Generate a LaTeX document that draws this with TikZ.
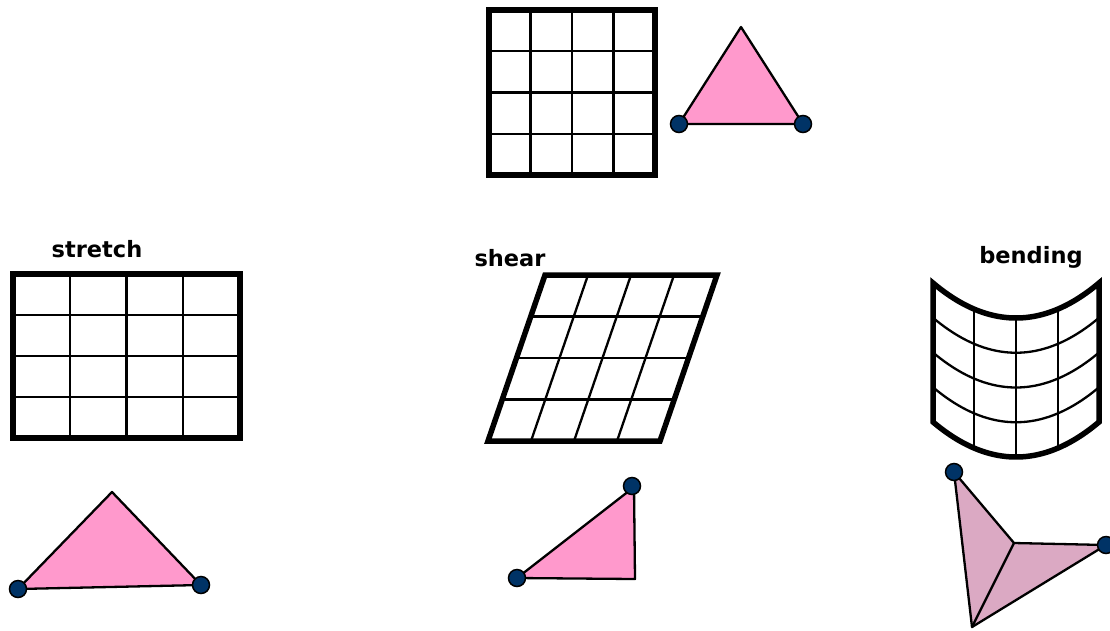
\documentclass[tikz,border=0pt]{standalone}
\usepackage{fontspec}
\setmainfont{DejaVu Sans}
\usepackage{tikz}
\usepackage{xcolor}
\definecolor{tripink}{HTML}{FF99CC}
\definecolor{bendpink}{HTML}{DBA9C3}
\definecolor{dotblue}{HTML}{003366}

\begin{document}
\begin{tikzpicture}[x=1pt,y=-1pt,
  gridline/.style={line width=2.3pt},
  frame/.style={line width=5.5pt,line join=miter},
  tri/.style={draw,line width=2.3pt,line join=round},
  vdot/.style={fill=dotblue,draw=black,line width=1.5pt},
  lbl/.style={font=\fontsize{22.5}{26}\selectfont\bfseries,inner sep=0pt}]
\useasboundingbox (0,0) rectangle (1110,630);
\foreach \i in {1,2,3} {
  \draw[gridline] ({489+41.5*\i},10)--({489+41.5*\i},175);
  \draw[gridline] (489,{10+41.25*\i})--(655,{10+41.25*\i});
}
\draw[frame] (489,10) rectangle (655,175);
\draw[tri,fill=tripink] (679,124)--(741,27)--(803,124)--cycle;
\draw[vdot] (679,124) circle[radius=8.5pt];
\draw[vdot] (803,124) circle[radius=8.5pt];
\node[lbl] (stretch) at (97,249) {stretch};
\foreach \i in {1,2,3} {
  \draw[gridline] ({13+56.75*\i},274)--({13+56.75*\i},438);
  \draw[gridline] (13,{274+41*\i})--(240,{274+41*\i});
}
\draw[frame] (13,274) rectangle (240,438);
\draw[tri,fill=tripink] (18,589)--(112,492)--(201,585)--cycle;
\draw[vdot] (18,589) circle[radius=8.5pt];
\draw[vdot] (201,585) circle[radius=8.5pt];
\node[lbl] (shear) at (510,258) {shear};
\foreach \i in {1,2,3} {
  \draw[gridline] ({545+43*\i},275)--({488+43*\i},441);
  \draw[gridline] ({545-14.25*\i},{275+41.5*\i})--({717-14.25*\i},{275+41.5*\i});
}
\draw[frame] (545,275)--(717,275)--(660,441)--(488,441)--cycle;
\draw[tri,fill=tripink] (517,578)--(635,579)--(634,487)--cycle;
\draw[vdot] (517,578) circle[radius=8.5pt];
\draw[vdot] (632,486) circle[radius=8.5pt];
\node[lbl] (bending) at (1031,257) {bending};
\foreach \i in {1,2,3} {
  \draw[gridline] plot[domain=-83:83,samples=40,smooth] ({1016+\x},{283+34.75*\i+35*(1-(\x/83)^2)});
}
\foreach \u in {-42,0,42} {
  \draw[gridline] ({1016+\u},{283+35*(1-(\u/83)^2)})--({1016+\u},{422+35*(1-(\u/83)^2)});
}
\draw[frame] plot[domain=-83:83,samples=40,smooth] ({1016+\x},{283+35*(1-(\x/83)^2)})
  -- plot[domain=83:-83,samples=40,smooth] ({1016+\x},{422+35*(1-(\x/83)^2)}) -- cycle;
\draw[tri,fill=bendpink] (954,472)--(1014,543)--(1106,545)--(972,627)--cycle;
\draw[tri] (1014,543)--(972,627);
\draw[vdot] (954,472) circle[radius=8.5pt];
\draw[vdot] (1106,545) circle[radius=8.5pt];
\end{tikzpicture}
\end{document}
